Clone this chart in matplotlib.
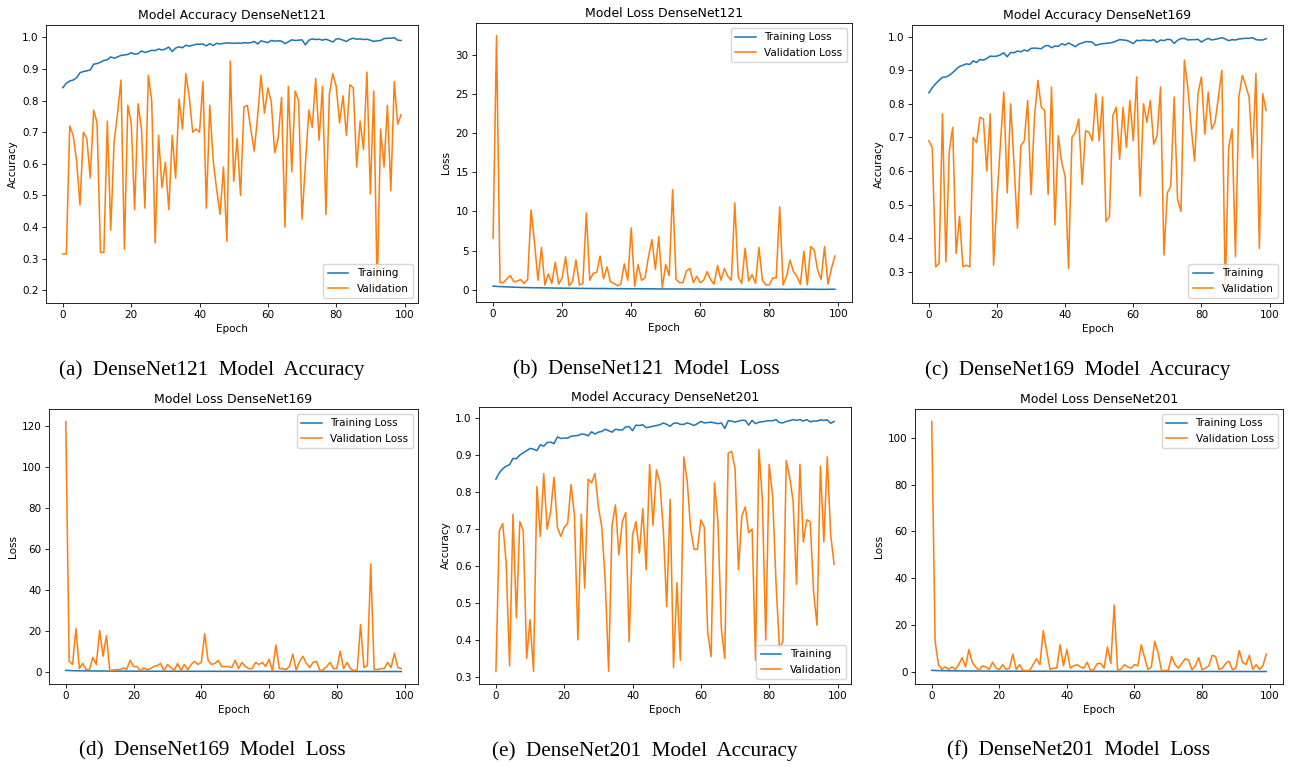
#!/usr/bin/env python3
"""
Training curves of the three DenseNet variants (accuracy and loss),
laid out as six sub-figures with (a)-(f) captions.

Output:
- out.png
"""

import numpy as np
import matplotlib.pyplot as plt


# ----------------------------
# Data
# ----------------------------
EPOCHS = list(range(100))

d121_acc_train = [
    0.841, 0.855, 0.862, 0.865, 0.872, 0.888, 0.892, 0.894, 0.897, 0.915,
    0.917, 0.921, 0.927, 0.929, 0.938, 0.934, 0.938, 0.943, 0.944, 0.946,
    0.951, 0.947, 0.948, 0.957, 0.952, 0.955, 0.959, 0.958, 0.963, 0.960,
    0.963, 0.969, 0.955, 0.966, 0.970, 0.967, 0.975, 0.972, 0.975, 0.978,
    0.978, 0.979, 0.973, 0.980, 0.974, 0.981, 0.979, 0.981, 0.982, 0.982,
    0.981, 0.982, 0.981, 0.983, 0.982, 0.983, 0.987, 0.979, 0.989, 0.986,
    0.983, 0.990, 0.988, 0.989, 0.988, 0.980, 0.986, 0.992, 0.990, 0.991,
    0.992, 0.976, 0.991, 0.995, 0.993, 0.994, 0.991, 0.994, 0.990, 0.985,
    0.995, 0.995, 0.991, 0.987, 0.994, 0.997, 0.994, 0.995, 0.993, 0.994,
    0.991, 0.987, 0.989, 0.990, 0.996, 0.997, 0.997, 0.999, 0.991, 0.990,
]
d121_acc_val = [
    0.315, 0.315, 0.720, 0.690, 0.610, 0.470, 0.700, 0.680, 0.555, 0.770,
    0.730, 0.320, 0.320, 0.735, 0.390, 0.670, 0.760, 0.865, 0.330, 0.785,
    0.730, 0.455, 0.790, 0.710, 0.460, 0.880, 0.800, 0.350, 0.690, 0.525,
    0.605, 0.455, 0.690, 0.555, 0.805, 0.710, 0.885, 0.810, 0.700, 0.710,
    0.700, 0.860, 0.460, 0.785, 0.610, 0.520, 0.440, 0.590, 0.355, 0.925,
    0.545, 0.680, 0.500, 0.780, 0.785, 0.710, 0.640, 0.750, 0.880, 0.760,
    0.840, 0.795, 0.635, 0.680, 0.810, 0.400, 0.845, 0.575, 0.830, 0.800,
    0.425, 0.600, 0.770, 0.715, 0.870, 0.675, 0.845, 0.440, 0.820, 0.885,
    0.845, 0.730, 0.815, 0.690, 0.850, 0.840, 0.590, 0.735, 0.645, 0.890,
    0.505, 0.830, 0.200, 0.710, 0.590, 0.785, 0.515, 0.860, 0.725, 0.755,
]
d121_loss_train = [
    0.46, 0.41, 0.39, 0.37, 0.35, 0.33, 0.31, 0.30, 0.28, 0.27,
    0.26, 0.25, 0.24, 0.24, 0.23, 0.22, 0.21, 0.21, 0.20, 0.19,
    0.19, 0.18, 0.18, 0.17, 0.17, 0.16, 0.16, 0.15, 0.15, 0.15,
    0.14, 0.14, 0.15, 0.13, 0.13, 0.13, 0.12, 0.12, 0.12, 0.11,
    0.11, 0.11, 0.12, 0.10, 0.11, 0.10, 0.10, 0.10, 0.09, 0.09,
    0.09, 0.09, 0.09, 0.08, 0.09, 0.08, 0.08, 0.09, 0.07, 0.08,
    0.08, 0.07, 0.07, 0.07, 0.07, 0.08, 0.07, 0.06, 0.07, 0.06,
    0.06, 0.08, 0.06, 0.05, 0.06, 0.05, 0.06, 0.05, 0.06, 0.06,
    0.05, 0.05, 0.06, 0.06, 0.05, 0.04, 0.05, 0.05, 0.05, 0.05,
    0.06, 0.06, 0.05, 0.05, 0.04, 0.04, 0.04, 0.04, 0.05, 0.05,
]
d121_loss_val = [
    6.6, 32.5, 0.9, 0.9, 1.4, 1.8, 1.0, 1.1, 1.3, 0.8,
    1.3, 10.2, 6.0, 1.2, 5.4, 0.6, 2.0, 0.8, 3.5, 0.7,
    1.5, 4.2, 0.5, 1.0, 3.8, 0.6, 0.8, 9.8, 1.2, 2.1,
    2.2, 4.3, 1.4, 2.9, 1.0, 0.8, 0.5, 0.7, 3.3, 1.2,
    7.9, 0.4, 3.2, 1.2, 1.5, 4.2, 6.4, 2.6, 6.8, 0.3,
    3.2, 1.8, 12.8, 1.3, 0.9, 0.9, 2.4, 2.7, 0.9, 1.7,
    0.9, 1.2, 2.3, 1.3, 0.7, 3.1, 1.2, 2.7, 1.7, 1.2,
    11.1, 1.6, 0.8, 5.3, 1.1, 1.9, 0.8, 5.4, 1.2, 0.6,
    0.6, 1.5, 1.5, 10.6, 0.6, 1.7, 3.8, 2.3, 1.7, 0.7,
    4.9, 0.6, 5.5, 5.1, 2.5, 1.3, 5.5, 0.7, 2.7, 4.3,
]

d169_acc_train = [
    0.833, 0.848, 0.860, 0.870, 0.879, 0.880, 0.885, 0.893, 0.903, 0.911,
    0.915, 0.919, 0.917, 0.928, 0.923, 0.932, 0.930, 0.935, 0.942, 0.941,
    0.942, 0.946, 0.952, 0.940, 0.953, 0.952, 0.957, 0.955, 0.960, 0.957,
    0.965, 0.966, 0.965, 0.964, 0.972, 0.974, 0.967, 0.972, 0.971, 0.979,
    0.975, 0.981, 0.976, 0.970, 0.978, 0.981, 0.985, 0.985, 0.983, 0.974,
    0.977, 0.979, 0.980, 0.981, 0.983, 0.987, 0.991, 0.990, 0.989, 0.985,
    0.979, 0.989, 0.988, 0.990, 0.989, 0.988, 0.991, 0.983, 0.990, 0.988,
    0.992, 0.991, 0.980, 0.989, 0.994, 0.995, 0.990, 0.991, 0.991, 0.992,
    0.984, 0.990, 0.995, 0.990, 0.992, 0.994, 0.997, 0.993, 0.988, 0.991,
    0.990, 0.993, 0.994, 0.995, 0.995, 0.997, 0.991, 0.990, 0.990, 0.994,
]
d169_acc_val = [
    0.690, 0.670, 0.315, 0.325, 0.770, 0.330, 0.660, 0.730, 0.355, 0.465,
    0.315, 0.320, 0.315, 0.700, 0.685, 0.760, 0.755, 0.600, 0.770, 0.320,
    0.520, 0.680, 0.835, 0.535, 0.800, 0.620, 0.430, 0.675, 0.690, 0.810,
    0.530, 0.760, 0.870, 0.790, 0.780, 0.530, 0.850, 0.440, 0.705, 0.625,
    0.585, 0.310, 0.700, 0.715, 0.755, 0.560, 0.720, 0.715, 0.690, 0.830,
    0.690, 0.820, 0.450, 0.465, 0.765, 0.790, 0.635, 0.790, 0.670, 0.810,
    0.690, 0.880, 0.525, 0.800, 0.745, 0.810, 0.680, 0.705, 0.850, 0.350,
    0.535, 0.555, 0.820, 0.515, 0.480, 0.930, 0.850, 0.730, 0.630, 0.830,
    0.880, 0.710, 0.835, 0.725, 0.745, 0.820, 0.900, 0.245, 0.670, 0.725,
    0.345, 0.820, 0.885, 0.855, 0.820, 0.640, 0.890, 0.370, 0.830, 0.780,
]
d169_loss_train = [
    0.62, 0.52, 0.47, 0.44, 0.41, 0.39, 0.37, 0.35, 0.34, 0.32,
    0.31, 0.30, 0.29, 0.29, 0.28, 0.27, 0.26, 0.26, 0.25, 0.24,
    0.24, 0.23, 0.23, 0.22, 0.22, 0.22, 0.21, 0.21, 0.20, 0.20,
    0.20, 0.19, 0.19, 0.19, 0.18, 0.18, 0.18, 0.17, 0.17, 0.17,
    0.17, 0.16, 0.16, 0.16, 0.16, 0.15, 0.15, 0.15, 0.15, 0.14,
    0.15, 0.14, 0.14, 0.14, 0.13, 0.13, 0.13, 0.13, 0.13, 0.12,
    0.13, 0.12, 0.12, 0.12, 0.12, 0.11, 0.12, 0.11, 0.11, 0.11,
    0.11, 0.12, 0.11, 0.10, 0.10, 0.10, 0.11, 0.10, 0.10, 0.10,
    0.09, 0.09, 0.10, 0.09, 0.09, 0.09, 0.09, 0.08, 0.09, 0.08,
    0.08, 0.08, 0.09, 0.08, 0.08, 0.08, 0.07, 0.07, 0.08, 0.07,
]
d169_loss_val = [
    122.0, 5.0, 3.5, 21.0, 1.5, 4.0, 1.0, 1.0, 7.0, 3.5,
    20.0, 7.5, 17.5, 0.5, 0.8, 1.0, 1.0, 1.8, 1.2, 5.5,
    2.5, 2.5, 0.5, 1.8, 1.0, 1.5, 2.5, 3.0, 4.0, 0.5,
    3.5, 2.0, 0.5, 4.0, 0.5, 3.5, 1.0, 3.5, 5.0, 3.5,
    4.5, 18.5, 5.5, 3.5, 4.0, 5.5, 2.5, 2.5, 2.5, 2.0,
    5.5, 1.5, 4.5, 2.5, 1.5, 1.5, 4.5, 3.5, 4.5, 2.5,
    6.0, 0.5, 13.0, 1.5, 1.5, 1.0, 2.5, 8.5, 0.8, 5.0,
    7.5, 4.0, 2.0, 4.5, 5.0, 0.5, 1.0, 2.5, 4.5, 1.5,
    1.5, 10.0, 1.5, 4.5, 1.5, 0.5, 0.8, 23.0, 2.0, 3.0,
    52.5, 1.0, 1.0, 1.5, 1.5, 4.5, 2.0, 9.0, 2.0, 1.5,
]

d201_acc_train = [
    0.835, 0.852, 0.863, 0.870, 0.874, 0.891, 0.890, 0.900, 0.906, 0.912,
    0.918, 0.916, 0.912, 0.928, 0.924, 0.934, 0.935, 0.931, 0.949, 0.945,
    0.946, 0.946, 0.951, 0.952, 0.953, 0.957, 0.956, 0.952, 0.963, 0.957,
    0.962, 0.964, 0.970, 0.966, 0.962, 0.970, 0.968, 0.968, 0.976, 0.977,
    0.966, 0.981, 0.980, 0.982, 0.974, 0.976, 0.978, 0.980, 0.982, 0.987,
    0.983, 0.978, 0.986, 0.987, 0.983, 0.983, 0.987, 0.984, 0.980, 0.985,
    0.991, 0.987, 0.988, 0.989, 0.987, 0.985, 0.987, 0.972, 0.993, 0.992,
    0.989, 0.992, 0.994, 0.994, 0.981, 0.994, 0.985, 0.989, 0.990, 0.992,
    0.993, 0.993, 0.996, 0.988, 0.987, 0.991, 0.993, 0.996, 0.994, 0.996,
    0.992, 0.996, 0.990, 0.992, 0.992, 0.995, 0.994, 0.995, 0.986, 0.991,
]
d201_acc_val = [
    0.315, 0.695, 0.715, 0.610, 0.330, 0.740, 0.460, 0.720, 0.695, 0.350,
    0.455, 0.315, 0.815, 0.680, 0.850, 0.700, 0.745, 0.840, 0.705, 0.680,
    0.705, 0.715, 0.820, 0.735, 0.400, 0.740, 0.540, 0.835, 0.825, 0.850,
    0.760, 0.705, 0.560, 0.315, 0.710, 0.765, 0.630, 0.720, 0.745, 0.395,
    0.685, 0.720, 0.635, 0.755, 0.590, 0.875, 0.710, 0.860, 0.825, 0.700,
    0.490, 0.780, 0.325, 0.555, 0.345, 0.895, 0.830, 0.700, 0.645, 0.645,
    0.725, 0.705, 0.420, 0.355, 0.825, 0.720, 0.430, 0.350, 0.905, 0.910,
    0.865, 0.590, 0.735, 0.760, 0.690, 0.700, 0.345, 0.915, 0.780, 0.400,
    0.875, 0.790, 0.555, 0.380, 0.395, 0.885, 0.840, 0.775, 0.550, 0.875,
    0.665, 0.725, 0.720, 0.530, 0.440, 0.870, 0.665, 0.895, 0.685, 0.605,
]
d201_loss_train = [
    0.58, 0.49, 0.45, 0.42, 0.40, 0.38, 0.36, 0.34, 0.33, 0.31,
    0.30, 0.29, 0.28, 0.28, 0.27, 0.26, 0.25, 0.25, 0.24, 0.23,
    0.23, 0.22, 0.22, 0.21, 0.21, 0.21, 0.20, 0.20, 0.19, 0.19,
    0.19, 0.18, 0.18, 0.18, 0.17, 0.17, 0.17, 0.16, 0.16, 0.16,
    0.17, 0.15, 0.15, 0.15, 0.15, 0.14, 0.14, 0.14, 0.14, 0.13,
    0.14, 0.13, 0.13, 0.13, 0.12, 0.12, 0.12, 0.12, 0.12, 0.11,
    0.12, 0.11, 0.11, 0.11, 0.11, 0.10, 0.11, 0.12, 0.10, 0.10,
    0.10, 0.10, 0.10, 0.09, 0.10, 0.09, 0.10, 0.09, 0.09, 0.09,
    0.08, 0.09, 0.09, 0.09, 0.08, 0.08, 0.08, 0.08, 0.08, 0.08,
    0.08, 0.07, 0.08, 0.07, 0.08, 0.07, 0.07, 0.07, 0.07, 0.07,
]
d201_loss_val = [
    107.0, 13.0, 3.0, 1.0, 2.0, 1.0, 2.0, 1.0, 3.0, 6.0,
    2.0, 9.5, 4.0, 2.0, 0.5, 2.5, 2.0, 1.0, 4.0, 1.5,
    1.0, 3.0, 1.0, 1.5, 7.5, 1.0, 3.0, 0.5, 0.5, 0.5,
    3.0, 5.5, 3.0, 17.5, 9.0, 1.0, 1.5, 1.5, 11.5, 2.5,
    9.5, 1.5, 2.5, 3.0, 2.0, 1.5, 4.0, 0.5, 1.0, 3.5,
    3.5, 1.5, 10.5, 3.5, 28.5, 0.5, 1.0, 3.0, 2.0, 1.5,
    3.0, 2.5, 11.5, 6.0, 1.0, 2.0, 13.0, 8.0, 0.5, 0.5,
    0.5, 6.5, 3.0, 1.5, 3.5, 5.5, 5.0, 0.8, 2.5, 6.0,
    0.8, 1.5, 2.5, 7.0, 6.5, 1.0, 1.5, 3.5, 4.5, 0.8,
    1.5, 9.0, 4.0, 3.0, 7.0, 1.0, 3.0, 1.0, 2.5, 7.5,
]

# ----------------------------
# Layout (the sub-figures were pasted in at 3/4 of their size)
# ----------------------------
FIG_W, FIG_H = 1293, 767
SCALE = 0.75

# axes boxes in pixels: left, right, top, bottom
BOXES = [
    (46, 418, 25, 303), (476, 852, 23, 302), (912, 1283, 25, 303),
    (49, 418, 409, 684), (479, 851, 407, 684), (915, 1283, 409, 684),
]
# caption centres in pixels
CAPTIONS = [
    ("(a)  DenseNet121  Model  Accuracy", 212, 370),
    ("(b)  DenseNet121  Model  Loss", 646, 370),
    ("(c)  DenseNet169  Model  Accuracy", 1078, 370),
    ("(d)  DenseNet169  Model  Loss", 212, 751),
    ("(e)  DenseNet201  Model  Accuracy", 645, 751),
    ("(f)  DenseNet201  Model  Loss", 1079, 751),
]


def set_style(s):
    plt.rcParams.update({
        "font.family": "DejaVu Sans",
        "font.size": 10 * s,
        "lines.linewidth": 1.5 * s,
        "axes.linewidth": 0.8 * s,
        "axes.titlepad": 6 * s,
        "axes.labelpad": 4 * s,
        "xtick.major.size": 3.5 * s,
        "ytick.major.size": 3.5 * s,
        "xtick.major.width": 0.8 * s,
        "ytick.major.width": 0.8 * s,
        "xtick.major.pad": 3.5 * s,
        "ytick.major.pad": 3.5 * s,
    })


def add_axes(fig, box):
    l, r, t, b = box
    return fig.add_axes([l / FIG_W, 1 - b / FIG_H, (r - l) / FIG_W, (b - t) / FIG_H])


def draw_panel(ax, train, val, title, kind):
    if kind == "acc":
        ax.plot(EPOCHS, train, label="Training")
        ax.plot(EPOCHS, val, label="Validation")
        ax.set_ylabel("Accuracy")
        ax.legend(loc="lower right")
    else:
        ax.plot(EPOCHS, train, label="Training Loss")
        ax.plot(EPOCHS, val, label="Validation Loss")
        ax.set_ylabel("Loss")
        ax.legend(loc="upper right")
    ax.set_title(title)
    ax.set_xlabel("Epoch")


# ----------------------------
# Main
# ----------------------------
def main():
    set_style(SCALE)
    fig = plt.figure(figsize=(FIG_W / 100, FIG_H / 100), dpi=100)

    panels = [
        (d121_acc_train, d121_acc_val, "Model Accuracy DenseNet121", "acc"),
        (d121_loss_train, d121_loss_val, "Model Loss DenseNet121", "loss"),
        (d169_acc_train, d169_acc_val, "Model Accuracy DenseNet169", "acc"),
        (d169_loss_train, d169_loss_val, "Model Loss DenseNet169", "loss"),
        (d201_acc_train, d201_acc_val, "Model Accuracy DenseNet201", "acc"),
        (d201_loss_train, d201_loss_val, "Model Loss DenseNet201", "loss"),
    ]
    for box, (train, val, title, kind) in zip(BOXES, panels):
        ax = add_axes(fig, box)
        draw_panel(ax, train, val, title, kind)

    for text, cx, cy in CAPTIONS:
        fig.text(cx / FIG_W, 1 - cy / FIG_H, text, ha="center", va="center",
                 family="Liberation Serif", fontsize=15.2)

    fig.savefig("out.png", dpi=100)
    plt.close(fig)


if __name__ == "__main__":
    main()
